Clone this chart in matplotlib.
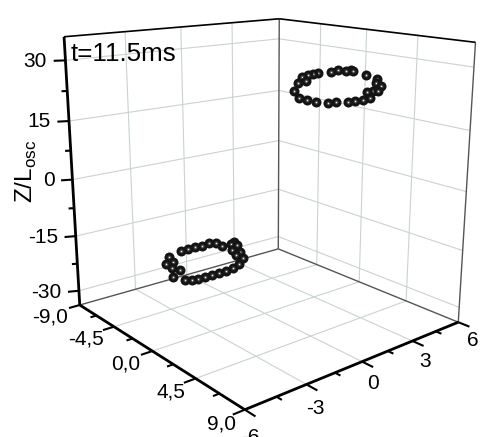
import numpy as np
import matplotlib
matplotlib.use("Agg")
import matplotlib.pyplot as plt
plt.rcParams['font.family'] = ['Liberation Sans', 'DejaVu Sans']

x_major = [-9.0, -4.5, 0.0, 4.5, 9.0]
x_minor = [-6.75, -2.25, 2.25, 6.75]
x_labels = ['-9,0', '-4,5', '0,0', '4,5', '9,0']
y_major = [-6, -3, 0, 3, 6]
y_minor = [-4.5, -1.5, 1.5, 4.5]
y_labels = ['-6', '-3', '0', '3', '6']
z_major = [-30, -15, 0, 15, 30]
z_minor = [-22.5, -7.5, 7.5, 22.5]
z_labels = ['-30', '-15', '0', '15', '30']
x0, x1, y0, y1, z0, z1 = -9, 9, -6, 6, -34, 35.7

upper_x = [-1.38,-1.07,-0.97,-0.82,0.60,0.79,2.76,4.66,5.55,6.16,6.86,6.87,7.30,7.33,7.45,7.35,5.87,5.72,5.93,4.81,4.01,2.90,1.41,-0.40,-0.81,-0.81,-1.36,-1.14]
upper_y = [3.88,3.42,3.06,2.57,1.94,1.40,-0.02,-0.88,-1.01,-0.95,-0.78,-0.36,-0.00,0.35,0.68,1.15,2.00,2.45,2.62,3.57,3.85,4.68,5.04,5.49,5.62,5.29,5.16,4.54]
upper_z = 25
lower_x = [-8.70,-8.75,-8.74,-8.70,-8.80,-8.47,-7.73,-7.59,-7.86,-7.18,-6.58,-5.56,-5.92,-4.80,-3.95,-3.63,-3.56,-3.47,-3.47,-3.49,-3.51,-3.60,-3.94,-4.91,-5.65,-6.28,-7.23,-7.30,-8.18]
lower_y = [-0.47,0.01,0.41,0.81,1.30,1.57,1.55,2.06,2.39,2.24,1.58,1.31,1.75,1.35,0.65,0.09,-0.34,-0.79,-1.19,-1.59,-1.94,-2.26,-2.48,-2.66,-1.94,-2.12,-2.02,-1.59,-1.38]
lower_z = -26

W, H = 490, 437
fig = plt.figure(figsize=(W/100, H/100), dpi=100)
A = 360
f = 924*0.185/A
ax = fig.add_axes([80/W, 70/H, A/W, A/H], projection='3d', computed_zorder=False)
ax.set_axis_off()
ax.view_init(elev=15.7, azim=-39.4)
ax.set_proj_type('persp', focal_length=f)
ax.set_xlim(x0, x1, view_margin=0)
ax.set_ylim(y0, y1, view_margin=0)
ax.set_zlim(z0, z1, view_margin=0)
ax.set_box_aspect((3.08, 3.0, 3.08), zoom=2.77*f)

def seg(a, b, z=1, **kw):
    ax.plot([a[0], b[0]], [a[1], b[1]], [a[2], b[2]], clip_on=False, zorder=z,
            solid_capstyle='butt', **kw)

grid = dict(color='#c9d3d0', lw=0.8)
for x in x_major[1:-1]:
    seg((x, y0, z0), (x, y1, z0), **grid)
    seg((x, y1, z0), (x, y1, z1), **grid)
for y in y_major[1:-1]:
    seg((x0, y, z0), (x1, y, z0), **grid)
    seg((x0, y, z0), (x0, y, z1), **grid)
for z in z_major:
    seg((x0, y0, z), (x0, y1, z), **grid)
    seg((x0, y1, z), (x1, y1, z), **grid)

thin = dict(color='#555555', lw=1.0, z=2)
seg((x0, y0, z0), (x0, y1, z0), **thin)
seg((x0, y1, z0), (x1, y1, z0), **thin)
seg((x0, y1, z0), (x0, y1, z1), **thin)
seg((x1, y1, z0), (x1, y1, z1), **thin)
top = dict(color='black', lw=1.2, z=3)
seg((x0, y0, z1), (x0, y1, z1), **top)
seg((x0, y1, z1), (x1, y1, z1), **top)
axis = dict(color='black', lw=2.0, z=3)
seg((x0, y0, z0), (x1, y0, z0), **axis)
seg((x1, y0, z0), (x1, y1, z0), **axis)
seg((x0, y0, z0), (x0, y0, z1), **axis)

tk = dict(color='black', lw=1.5, z=3)
for x in x_major:
    seg((x, y0, z0), (x, y0-0.55, z0), **tk)
for x in x_minor:
    seg((x, y0, z0), (x, y0-0.3, z0), **tk)
for y in y_major:
    seg((x1, y, z0), (x1+0.9, y, z0), **tk)
for y in y_minor:
    seg((x1, y, z0), (x1+0.45, y, z0), **tk)
for z in z_major:
    seg((x0, y0, z), (x0-0.3, y0-0.45, z), **tk)
for z in z_minor:
    seg((x0, y0, z), (x0-0.15, y0-0.22, z), **tk)

fs = 15
for x, s in zip(x_major, x_labels):
    ax.text(x, y0-1.5+0.45*(x-x0)/18, z0-1, s, fontsize=fs, ha='center', va='center')
for y, s in zip(y_major, y_labels):
    ax.text(x1+2.3, y-1.0, z0, s, fontsize=fs, ha='center', va='center')
for z, s in zip(z_major, z_labels):
    ax.text(x0-0.47, y0-0.7, z, s, fontsize=fs, ha='right', va='center')

# beads, far ones first, each with a highlight so that it looks like a sphere
for xs, ys, zv, base in [(upper_x, upper_y, upper_z, 10), (lower_x, lower_y, lower_z, 200)]:
    xs, ys = np.array(xs), np.array(ys)
    order = np.argsort(xs - ys)
    for k, i in enumerate(order):
        for j, (size, col) in enumerate([(52, '#141414'), (9, '#333333'), (3, '#777777'), (0.8, '#eeeeee')]):
            ax.scatter([xs[i]], [ys[i]], [zv], s=size, c=col, linewidths=0, depthshade=False,
                       clip_on=False, zorder=base+k+j*0.1)

fig.text(71/W, 1-61/H, 't=11.5ms', fontsize=18.7, va='baseline', ha='left')
fig.text(26/W, 1-171/H, r'Z/L$_{\mathregular{osc}}$', fontsize=17.5, rotation=90, ha='center', va='center')
fig.savefig('out.png', dpi=100)
